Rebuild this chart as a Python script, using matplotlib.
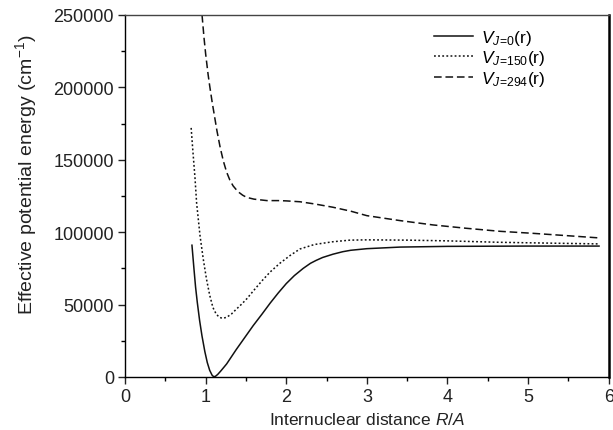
import numpy as np
import matplotlib
matplotlib.use('Agg')
import matplotlib.pyplot as plt
from matplotlib.ticker import MultipleLocator

plt.rcParams['font.family'] = ['Liberation Sans', 'DejaVu Sans']
plt.rcParams['mathtext.fontset'] = 'custom'
plt.rcParams['mathtext.rm'] = 'Liberation Sans'
plt.rcParams['mathtext.it'] = 'Liberation Sans:italic'

# curvas (R en A, energia en cm-1)
r_j0 = [0.83, 0.855, 0.875, 0.896, 0.925, 0.954, 0.99, 1.02, 1.05, 1.08,
        1.10, 1.12, 1.15, 1.19, 1.26, 1.32, 1.38, 1.45, 1.52, 1.59, 1.70,
        1.80, 1.90, 2.00, 2.10, 2.21, 2.30, 2.37, 2.45, 2.58, 2.70, 2.80,
        3.00, 3.41, 4.00, 5.00, 5.88]
v_j0 = [91000, 74600, 62000, 51600, 39000, 28500, 17500, 10000, 4600, 1200,
        200, 400, 1800, 4300, 9000, 14000, 19000, 24500, 30000, 35500, 43500,
        51000, 58000, 64500, 70000, 75000, 78500, 80500, 82500, 84800, 86500,
        87500, 88600, 89700, 90200, 90400, 90400]

r_j150 = [0.82, 0.84, 0.867, 0.888, 0.93, 0.97, 1.01, 1.05, 1.09, 1.13, 1.17,
          1.21, 1.26, 1.32, 1.38, 1.45, 1.51, 1.60, 1.70, 1.80, 1.92, 2.05,
          2.17, 2.35, 2.58, 2.79, 3.00, 3.50, 4.00, 4.65, 5.30, 5.88]
v_j150 = [172000, 157000, 138000, 120000, 97600, 81500, 67700, 56500, 48000,
          43500, 41200, 40500, 41200, 43500, 46800, 50500, 54000, 60000, 66500,
          72500, 78500, 84000, 88400, 91500, 93400, 94500, 94700, 94500, 94000,
          93000, 92400, 91900]

r_j294 = [0.955, 0.98, 1.00, 1.03, 1.05, 1.08, 1.11, 1.14, 1.18, 1.22, 1.26,
          1.30, 1.34, 1.40, 1.46, 1.51, 1.60, 1.76, 1.90, 2.00, 2.17, 2.35,
          2.58, 2.80, 3.00, 3.41, 3.82, 4.23, 4.65, 5.06, 5.48, 5.89]
v_j294 = [250000, 234000, 223000, 209000, 201000, 190000, 180000, 170000,
          158500, 149000, 141500, 136000, 132000, 128000, 125500, 124000,
          122800, 121800, 121800, 121600, 121000, 119500, 117200, 114500,
          111400, 108000, 105000, 102700, 100600, 99200, 97600, 96000]

etiquetas = [r'$V_{J\!=\!0}$(r)', r'$V_{J\!=\!150}$(r)', r'$V_{J\!=\!294}$(r)']

fig = plt.figure(figsize=(6.13, 4.31), dpi=100)
ax = fig.add_axes([0.204, 0.123, 0.789, 0.840])

col = '#111111'
ax.plot(r_j0, v_j0, color=col, lw=1.1, ls='-', label=etiquetas[0])
ax.plot(r_j150, v_j150, color=col, lw=1.1, ls=(0, (1.2, 1.5)), label=etiquetas[1])
ax.plot(r_j294, v_j294, color=col, lw=1.1, ls=(0, (5, 2.5)), label=etiquetas[2])

ax.set_xlim(0, 6)
ax.set_ylim(0, 250000)
ax.xaxis.set_major_locator(MultipleLocator(1))
ax.xaxis.set_minor_locator(MultipleLocator(0.5))
ax.yaxis.set_major_locator(MultipleLocator(50000))
ax.yaxis.set_minor_locator(MultipleLocator(25000))
ax.tick_params(which='major', direction='out', length=5, width=1,
               labelsize=13, colors='#222222', pad=3)
ax.tick_params(which='minor', direction='out', length=3, width=1)
for s in ax.spines.values():
    s.set_linewidth(1.0)
ax.spines['right'].set_linewidth(1.8)
ax.spines['top'].set_color('#444444')

ax.set_xlabel(r'Internuclear distance $R/A$', fontsize=12.5, color='#222222',
              labelpad=4)
ax.set_ylabel(r'Effective potential energy (cm$^{-1}$)', fontsize=14,
              color='#222222', labelpad=6)
ax.yaxis.set_label_coords(-0.177, 0.56)

ax.legend(loc='upper right', frameon=False, fontsize=12.5, handlelength=2.2,
          labelspacing=0.1, handletextpad=0.5, bbox_to_anchor=(0.902, 1.008))

plt.savefig('out.png', dpi=100)
